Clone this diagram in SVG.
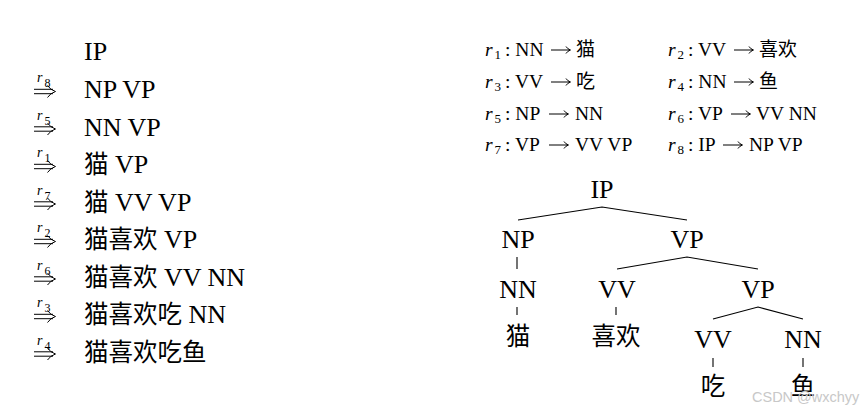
<svg xmlns="http://www.w3.org/2000/svg" width="867" height="413" viewBox="0 0 867 413">
<defs>
<g id="dArrow" fill="none" stroke="#000" stroke-width="1">
<path d="M34 -8.7 H53 M34 -4.3 H53"/>
<path d="M47.5 -12.5 Q50.5 -8 55.5 -6.5 Q50.5 -5 47.5 -0.5"/>
</g>
<g id="rArrow" fill="none" stroke="#000" stroke-width="1">
<path d="M0 -6 H18.5"/>
<path d="M15 -9.5 Q16.5 -7 19.5 -6 Q16.5 -5 15 -2.5"/>
</g>
</defs>
<style>
.t{font-family:"Liberation Serif","Noto Sans CJK SC",serif;fill:#000}
.big{font-size:26px}
.mid{font-size:19.5px}
.cj{font-family:"Noto Sans CJK SC",sans-serif}
.big .cj{font-size:24.5px}
.mid .cj{font-size:19px}
.c{text-anchor:middle}
.ri{font-family:"Liberation Serif",serif;font-style:italic;font-size:14px}
.rs{font-family:"Liberation Serif",serif;font-size:12px}
.rr{font-family:"Liberation Serif",serif;font-style:italic;font-size:19.5px}
.rsub{font-family:"Liberation Serif",serif;font-size:13px}
.ln{stroke:#000;stroke-width:1.1;fill:none}
.wm{font-family:"Liberation Sans","DejaVu Sans",sans-serif;font-size:14.5px;fill:#c8c8c8}
</style>
<rect width="867" height="413" fill="#fff"/>
<g id="derivation">
<text class="t big" x="84" y="60">IP</text>
<g id="step8" transform="translate(0,98)"><use href="#dArrow"/><text class="ri" x="37" y="-16">r</text><text class="rs" x="44.5" y="-11">8</text><text class="t big" x="84" y="0">NP VP</text></g>
<g id="step5" transform="translate(0,135.5)"><use href="#dArrow"/><text class="ri" x="37" y="-16">r</text><text class="rs" x="44.5" y="-11">5</text><text class="t big" x="84" y="0">NN VP</text></g>
<g id="step1" transform="translate(0,173)"><use href="#dArrow"/><text class="ri" x="37" y="-16">r</text><text class="rs" x="44.5" y="-11">1</text><text class="t big" x="84" y="0"><tspan class="cj">猫</tspan> VP</text></g>
<g id="step7" transform="translate(0,210.5)"><use href="#dArrow"/><text class="ri" x="37" y="-16">r</text><text class="rs" x="44.5" y="-11">7</text><text class="t big" x="84" y="0"><tspan class="cj">猫</tspan> VV VP</text></g>
<g id="step2" transform="translate(0,248)"><use href="#dArrow"/><text class="ri" x="37" y="-16">r</text><text class="rs" x="44.5" y="-11">2</text><text class="t big" x="84" y="0"><tspan class="cj">猫喜欢</tspan> VP</text></g>
<g id="step6" transform="translate(0,285.5)"><use href="#dArrow"/><text class="ri" x="37" y="-16">r</text><text class="rs" x="44.5" y="-11">6</text><text class="t big" x="84" y="0"><tspan class="cj">猫喜欢</tspan> VV NN</text></g>
<g id="step3" transform="translate(0,323)"><use href="#dArrow"/><text class="ri" x="37" y="-16">r</text><text class="rs" x="44.5" y="-11">3</text><text class="t big" x="84" y="0"><tspan class="cj">猫喜欢吃</tspan> NN</text></g>
<g id="step4" transform="translate(0,360.5)"><use href="#dArrow"/><text class="ri" x="37" y="-16">r</text><text class="rs" x="44.5" y="-11">4</text><text class="t big" x="84" y="0"><tspan class="cj">猫喜欢吃鱼</tspan></text></g>
</g>
<g id="rules">
<g id="r1" transform="translate(0,56)"><text class="rr" x="485" y="0">r</text><text class="rsub" x="494.5" y="3">1</text><text class="t mid" x="505" y="0">: NN</text><use href="#rArrow" x="551"/><text class="t mid" x="576" y="0"><tspan class="cj">猫</tspan></text></g>
<g id="r2" transform="translate(0,56)"><text class="rr" x="668" y="0">r</text><text class="rsub" x="677.5" y="3">2</text><text class="t mid" x="688" y="0">: VV</text><use href="#rArrow" x="734"/><text class="t mid" x="759" y="0"><tspan class="cj">喜欢</tspan></text></g>
<g id="r3" transform="translate(0,88)"><text class="rr" x="485" y="0">r</text><text class="rsub" x="494.5" y="3">3</text><text class="t mid" x="505" y="0">: VV</text><use href="#rArrow" x="551"/><text class="t mid" x="576" y="0"><tspan class="cj">吃</tspan></text></g>
<g id="r4" transform="translate(0,88)"><text class="rr" x="668" y="0">r</text><text class="rsub" x="677.5" y="3">4</text><text class="t mid" x="688" y="0">: NN</text><use href="#rArrow" x="734"/><text class="t mid" x="759" y="0"><tspan class="cj">鱼</tspan></text></g>
<g id="r5" transform="translate(0,120)"><text class="rr" x="485" y="0">r</text><text class="rsub" x="494.5" y="3">5</text><text class="t mid" x="505" y="0">: NP</text><use href="#rArrow" x="549"/><text class="t mid" x="575" y="0">NN</text></g>
<g id="r6" transform="translate(0,120)"><text class="rr" x="668" y="0">r</text><text class="rsub" x="677.5" y="3">6</text><text class="t mid" x="688" y="0">: VP</text><use href="#rArrow" x="731"/><text class="t mid" x="756" y="0">VV NN</text></g>
<g id="r7" transform="translate(0,151)"><text class="rr" x="485" y="0">r</text><text class="rsub" x="494.5" y="3">7</text><text class="t mid" x="505" y="0">: VP</text><use href="#rArrow" x="549"/><text class="t mid" x="575" y="0">VV VP</text></g>
<g id="r8" transform="translate(0,151)"><text class="rr" x="668" y="0">r</text><text class="rsub" x="677.5" y="3">8</text><text class="t mid" x="688" y="0">: IP</text><use href="#rArrow" x="723"/><text class="t mid" x="749" y="0">NP VP</text></g>
</g>
<g id="connectors">
<path class="ln" d="M518 220 L602 207 L687 220"/>
<path class="ln" d="M517 257 V269"/>
<path class="ln" d="M517 307 V315"/>
<path class="ln" d="M617 269 L687 257 L758 269"/>
<path class="ln" d="M616 307 V315"/>
<path class="ln" d="M713 319 L758 307 L803 319"/>
<path class="ln" d="M713 358 V367"/>
<path class="ln" d="M803 358 V367"/>
</g>
<g id="n-IP"><text class="t big c" x="602" y="198">IP</text></g>
<g id="n-NP"><text class="t big c" x="518" y="248">NP</text></g>
<g id="n-VP1"><text class="t big c" x="687" y="248">VP</text></g>
<g id="n-NN1"><text class="t big c" x="518" y="298">NN</text></g>
<g id="n-VV1"><text class="t big c" x="617" y="298">VV</text></g>
<g id="n-VP2"><text class="t big c" x="758" y="298">VP</text></g>
<g id="n-mao"><text class="t big c" x="518" y="345"><tspan class="cj">猫</tspan></text></g>
<g id="n-xihuan"><text class="t big c" x="616" y="345"><tspan class="cj">喜欢</tspan></text></g>
<g id="n-VV2"><text class="t big c" x="713" y="348">VV</text></g>
<g id="n-NN2"><text class="t big c" x="803" y="348">NN</text></g>
<g id="n-chi"><text class="t big c" x="713" y="395"><tspan class="cj">吃</tspan></text></g>
<g id="n-yu"><text class="t big c" x="803" y="395"><tspan class="cj">鱼</tspan></text></g>
<text class="wm" x="752" y="402">CSDN @wxchyy</text>
</svg>
